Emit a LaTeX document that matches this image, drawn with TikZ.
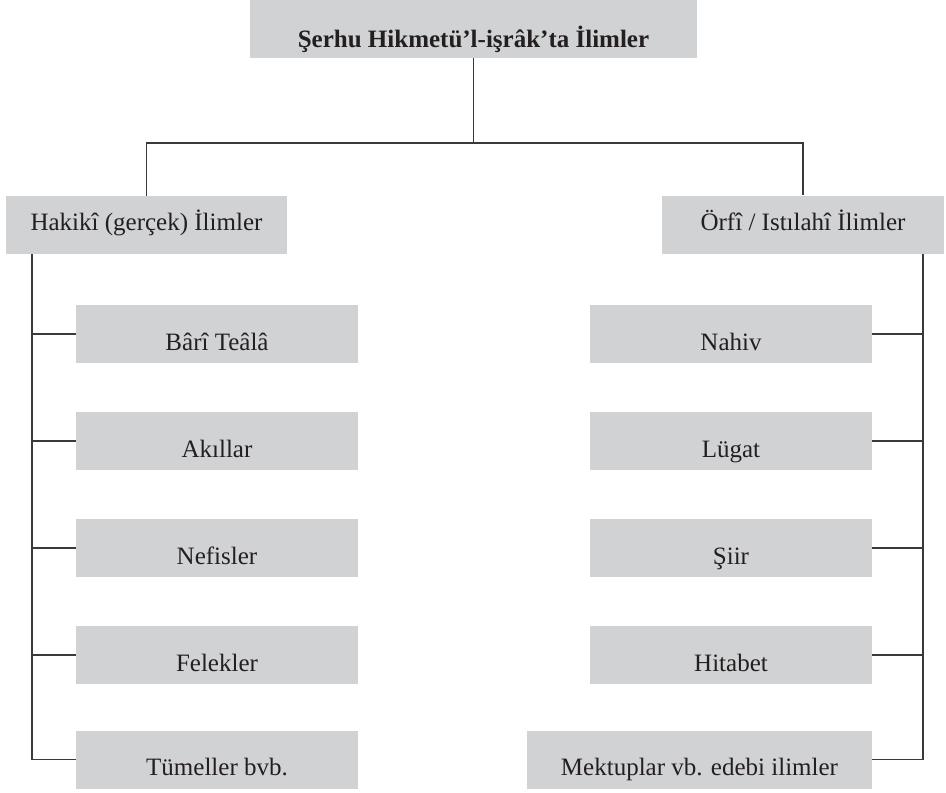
\documentclass[tikz,border=0pt]{standalone}
\usepackage{fontspec}
\setmainfont{Liberation Serif}
\definecolor{boxgray}{HTML}{D1D2D4}
\definecolor{txtgray}{HTML}{231F20}
\definecolor{linegray}{HTML}{3A3A3A}
\begin{document}
\begin{tikzpicture}[x=1pt,y=-1pt,
  box/.style={fill=boxgray, draw=none, inner sep=0pt, text=txtgray,
    font=\fontsize{25}{30}\selectfont, minimum height=58pt, minimum width=282pt,
    text height=32pt, text depth=0pt},
  midbox/.style={box, text height=11pt},
  conn/.style={draw=linegray, line width=1.2pt}]
\useasboundingbox (0,0) rectangle (946,793);
% nodes
\node[box, minimum width=447pt, text height=36pt] (top) at (473.5,29) {\textbf{Şerhu Hikmetü’l-işrâk’ta İlimler}};
\node[midbox, minimum width=281pt] (hak) at (146.5,225) {Hakikî (gerçek) İlimler};
\node[midbox] (orf) at (803,224.5) {Örfî / Istılahî İlimler};
\node[box] (l1) at (217,334) {Bârî Teâlâ};
\node[box] (l2) at (217,441) {Akıllar};
\node[box] (l3) at (217,548) {Nefisler};
\node[box] (l4) at (217,655) {Felekler};
\node[box] (l5) at (217,759.5) {Tümeller bvb.};
\node[box] (r1) at (731,334) {Nahiv};
\node[box] (r2) at (731,441) {Lügat};
\node[box] (r3) at (731,548) {Şiir};
\node[box] (r4) at (731,655) {Hitabet};
\node[box, minimum width=345pt] (r5) at (699.5,759.5) {Mektuplar vb. edebi ilimler};
% helper coordinates
\coordinate (hy) at (0,143);
\coordinate (lx) at (32,0);
\coordinate (rx) at (923,0);
% connectors
\draw[conn] (top.south) -- (top.south |- hy);
\draw[conn] (hak.north) |- (top.south |- hy) -| (orf.north);
\draw[conn] (hak.south -| lx) |- (l5.west);
\foreach \n in {l1,l2,l3,l4} \draw[conn] (\n.west) -- (\n.west -| lx);
\draw[conn] (orf.south -| rx) |- (r5.east);
\foreach \n in {r1,r2,r3,r4} \draw[conn] (\n.east) -- (\n.east -| rx);
\end{tikzpicture}
\end{document}
